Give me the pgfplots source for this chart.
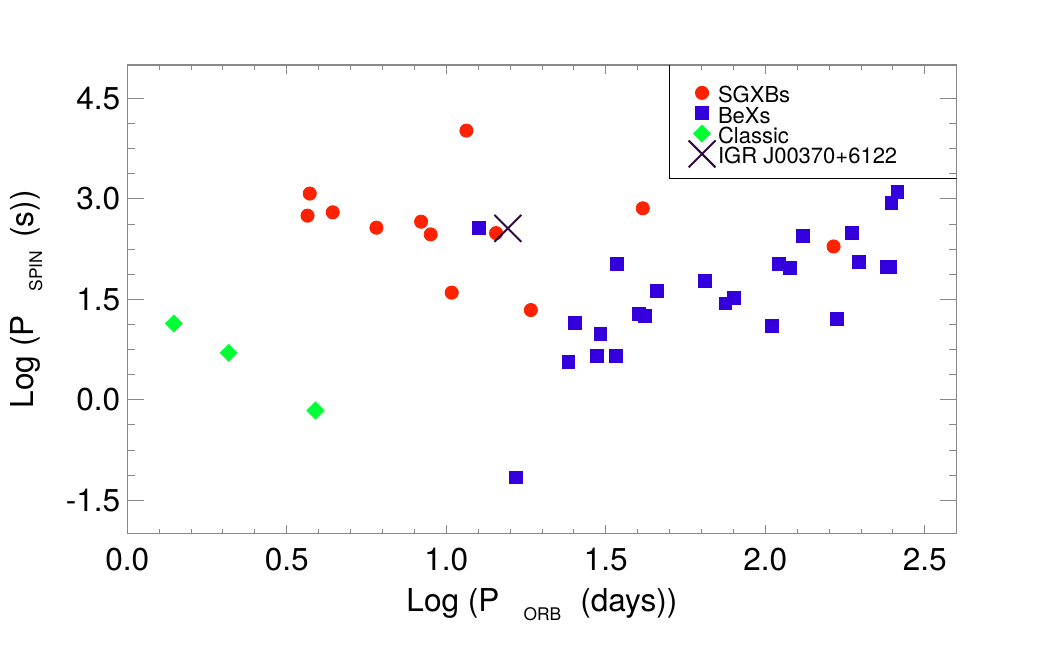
\documentclass[border=0pt]{standalone}
\usepackage{fontspec}
\setmainfont{TeX Gyre Heros}
\usepackage{pgfplots}
\pgfplotsset{compat=1.18}
\definecolor{sgred}{RGB}{255,34,0}
\definecolor{beblue}{RGB}{51,0,221}
\definecolor{clgreen}{RGB}{0,255,51}
\definecolor{igrpurple}{RGB}{46,11,58}
\definecolor{axgray}{RGB}{136,136,136}

\begin{document}
\begin{tikzpicture}
\begin{axis}[
  scale only axis,
  width=414.7pt, height=234.35pt,
  xmin=0, xmax=2.6, ymin=-2, ymax=5,
  xtick={0,0.5,...,2.5},
  ytick={-1.5,0,1.5,3,4.5},
  minor x tick num=4, minor y tick num=3,
  tick align=inside,
  axis line style={axgray, line width=0.6pt},
  every tick/.style={axgray, line width=0.5pt},
  xtick style={/pgfplots/major tick length=4.3pt, /pgfplots/minor tick length=2.3pt},
  ytick style={/pgfplots/major tick length=8.3pt, /pgfplots/minor tick length=3.8pt},
  tick label style={font=\fontsize{15.8}{17}\selectfont},
  xticklabel style={yshift=-3.7pt},
  yticklabel style={xshift=0pt},
  /pgf/number format/fixed,
  /pgf/number format/fixed zerofill,
  /pgf/number format/precision=1,
  /pgf/number format/assume math mode=true,
  xlabel={Log (P\hspace{12pt}\raisebox{-4.2pt}{\fontsize{8.7}{9}\selectfont ORB}\hspace{9.5pt}(days))},
  ylabel={Log (P\hspace{12pt}\raisebox{-4.5pt}{\fontsize{8.7}{9}\selectfont SPIN}\hspace{6.5pt}(s))},
  label style={font=\fontsize{15.8}{17}\selectfont},
  xlabel style={at={(axis description cs:0.5,-0.1664)}, anchor=base},
  ylabel style={at={(axis description cs:-0.1137,0.5)}, anchor=base},
  legend style={draw=none, fill=none, at={(axis description cs:0.6925,0.9524)},
    anchor=north west, inner sep=0pt, row sep=0pt, column sep=8pt,
    font=\fontsize{11}{11}\selectfont, cells={anchor=west},
    nodes={inner sep=0pt, text height=7.5pt, text depth=2.67pt}},
  legend image code/.code={\draw[#1, overlay] plot coordinates {(0pt,2.5pt)};},
]
\addplot[only marks, mark=*, mark size=3.3pt, mark options={draw=sgred, fill=sgred}] coordinates {
  (0.572,3.08) (0.565,2.75) (0.644,2.80) (0.781,2.57) (0.921,2.66) (0.951,2.47)
  (1.017,1.60) (1.063,4.02) (1.156,2.49) (1.265,1.34) (1.616,2.86) (2.214,2.29)
};
\addlegendentry{SGXBs}
\addplot[only marks, mark=square*, mark size=3.2pt, mark options={draw=beblue, fill=beblue}] coordinates {
  (1.101,2.57) (1.219,-1.16) (1.383,0.56) (1.403,1.15) (1.472,0.65) (1.483,0.98)
  (1.532,0.65) (1.535,2.03) (1.604,1.28) (1.622,1.25) (1.660,1.63) (1.810,1.78)
  (1.875,1.44) (1.901,1.52) (2.021,1.10) (2.042,2.03) (2.076,1.97) (2.119,2.45)
  (2.225,1.21) (2.271,2.49) (2.293,2.06) (2.381,1.98) (2.390,1.98) (2.395,2.94)
  (2.414,3.11)
};
\addlegendentry{BeXs}
\addplot[only marks, mark=square*, mark size=3pt, mark options={draw=clgreen, fill=clgreen, rotate=45}] coordinates {
  (0.146,1.14) (0.318,0.70) (0.590,-0.16)
};
\addlegendentry{Classic}
\addplot[only marks, mark=x, mark size=9.5pt, mark options={draw=igrpurple, line width=1pt}] coordinates {
  (1.193,2.56)
};
\addlegendentry{IGR J00370+6122}
\draw[black, line width=0.5pt] (axis description cs:0.6535,1) -- (axis description cs:0.6535,0.7568) -- (axis description cs:1,0.7568);
\end{axis}
\pgfresetboundingbox
\path (-63.65pt,-67.15pt) rectangle (467.85pt,266.85pt);
\end{tikzpicture}
\end{document}
